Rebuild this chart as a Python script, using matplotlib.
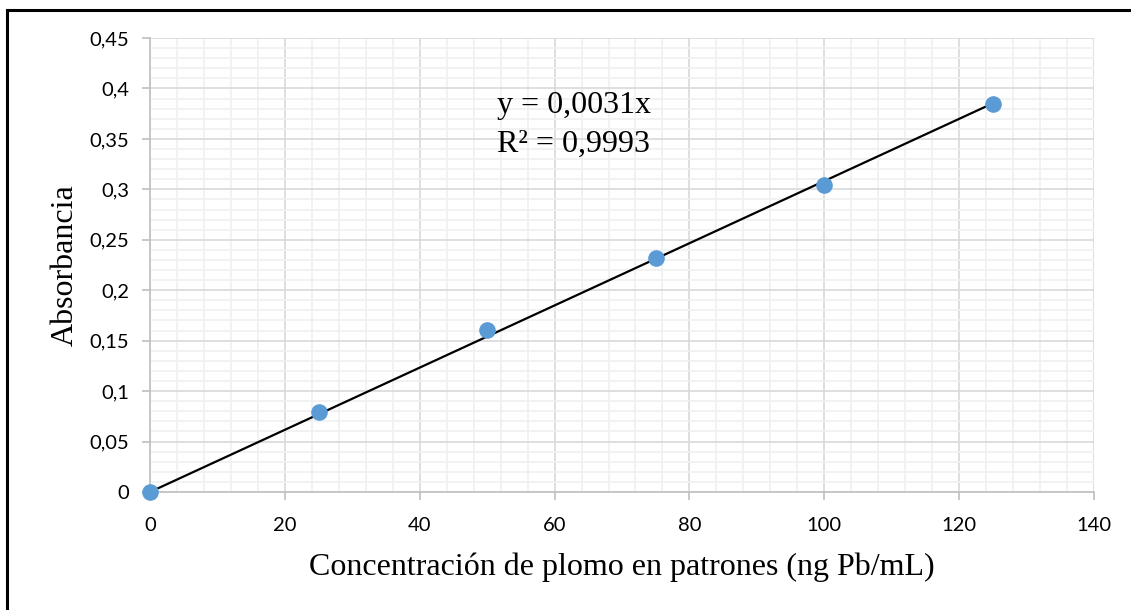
import matplotlib.pyplot as plt
from matplotlib.lines import Line2D
import numpy as np

# calibration standards
concentration = [0, 25, 50, 75, 100, 125]
absorbance = [0.0, 0.079, 0.161, 0.232, 0.304, 0.385]

x_ticks = [0, 20, 40, 60, 80, 100, 120, 140]
y_ticks = [0, 0.05, 0.1, 0.15, 0.2, 0.25, 0.3, 0.35, 0.4, 0.45]

equation_lines = ['y = 0,0031x', 'R² = 0,9993']
x_title = 'Concentración de plomo en patrones (ng Pb/mL)'
y_title = 'Absorbancia'

tick_font = 'Lato'
label_font = 'Liberation Serif'

# linear fit forced through the origin (Excel trendline)
xs = np.array(concentration, dtype=float)
ys = np.array(absorbance, dtype=float)
slope = (xs * ys).sum() / (xs * xs).sum()

fig = plt.figure(figsize=(11.31, 6.10), dpi=100)
ax = fig.add_axes([150 / 1131, 1 - 492 / 610, 944 / 1131, 454 / 610])

ax.set_xlim(0, 140)
ax.set_ylim(0, 0.45)
ax.set_xticks(x_ticks)
ax.set_yticks(y_ticks)
ax.set_xticks(np.arange(0, 141, 4), minor=True)
ax.set_yticks(np.arange(0, 0.451, 0.01), minor=True)
ax.set_xticklabels([str(t) for t in x_ticks])
ax.set_yticklabels([('%g' % t).replace('.', ',') for t in y_ticks])

ax.grid(which='major', color='#d9d9d9', lw=1.2)
ax.grid(which='minor', color='#f0f0f0', lw=1.2)
ax.set_axisbelow(True)

for side in ['top', 'right']:
    ax.spines[side].set_visible(False)
for side in ['left', 'bottom']:
    ax.spines[side].set_color('#bfbfbf')
    ax.spines[side].set_linewidth(1.2)

ax.tick_params(which='major', length=6, width=1.2, color='#bfbfbf',
               labelsize=14.5, labelcolor='black')
ax.tick_params(axis='x', which='major', pad=12)
ax.tick_params(axis='y', which='major', pad=9)
ax.tick_params(which='minor', length=0)
for lbl in ax.get_xticklabels() + ax.get_yticklabels():
    lbl.set_family(tick_font)

line_x = np.array([0, 125])
ax.plot(line_x, slope * line_x, color='black', lw=1.6, zorder=3)
ax.scatter(concentration, absorbance, s=120, color='#5b9bd5', zorder=4,
           clip_on=False)

for i, txt in enumerate(equation_lines):
    ax.text(51.5, 0.3756 - i * 0.0387, txt, family=label_font, fontsize=23,
            va='baseline', ha='left')

ax.set_xlabel(x_title, family=label_font, fontsize=23, labelpad=13)
ax.set_ylabel(y_title, family=label_font, fontsize=23, labelpad=7)

# chart border (top and left visible)
fig.add_artist(Line2D([7 / 1131, 1], [1 - 10 / 610, 1 - 10 / 610],
                      color='black', lw=2.2, transform=fig.transFigure))
fig.add_artist(Line2D([7 / 1131, 7 / 1131], [0, 1 - 10 / 610],
                      color='black', lw=2.2, transform=fig.transFigure))

fig.savefig('out.png', dpi=100)
